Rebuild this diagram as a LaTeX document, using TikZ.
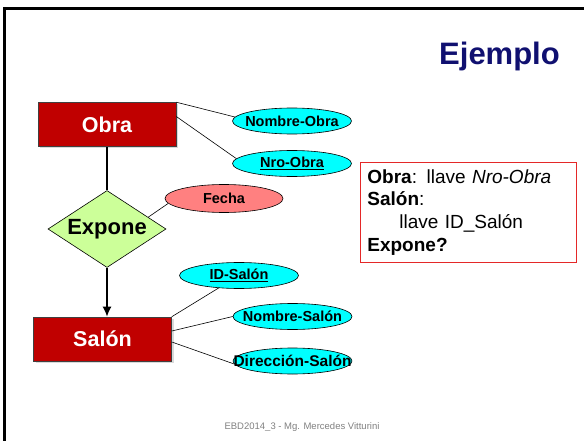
\documentclass[tikz,border=0pt]{standalone}
\usepackage{fontspec}
\setmainfont{Liberation Sans}
\usepackage{xcolor}
\usepackage{tikz}
\usetikzlibrary{positioning,shapes,arrows,arrows.meta,shadows}
\definecolor{entred}{RGB}{192,0,0}
\definecolor{atrcyan}{RGB}{0,255,255}
\definecolor{relgreen}{RGB}{204,255,153}
\definecolor{fechared}{RGB}{255,128,128}
\definecolor{titleblue}{RGB}{16,16,112}
\definecolor{boxred}{RGB}{228,40,40}
\newcommand{\lbl}[1]{\makebox[0pt]{#1}}

\begin{document}
\begin{tikzpicture}[x=1pt,y=-1pt]
    \tikzstyle{ent} = [rectangle, draw=black!75, line width=0.6pt,
    fill=entred, text=white, minimum width=138pt, minimum
    height=44pt, font=\fontsize{21.5}{24}\selectfont\bfseries,
    drop shadow={shadow xshift=2pt,shadow yshift=-2pt,opacity=0.3}]
    \tikzstyle{atr} = [ellipse, draw, line width=0.6pt, fill=atrcyan,
    minimum width=119pt, minimum height=26pt, inner sep=0pt,
    font=\fontsize{14.5}{16}\selectfont\bfseries]
    \tikzstyle{rel} = [diamond, aspect=1.53, draw, line width=0.6pt,
    fill=relgreen, minimum width=118pt, minimum height=77pt, inner
    sep=0pt, font=\fontsize{22}{24}\selectfont\bfseries]
    \tikzstyle{lnk} = [line width=0.6pt]
    \tikzstyle{card} = [line width=1.5pt]
    \useasboundingbox (0,0) rectangle (584,441);
    % marco de la diapositiva
    \draw[line width=3.3pt] (4.8,441) -- (4.8,8.5) -- (584,8.5);
    \node[text=titleblue, font=\fontsize{31}{34}\selectfont\bfseries,
    anchor=base] (titulo) at (499.5,65) {Ejemplo};
    % entidades y relacion
    \node[ent] (obra) at (107,124.5) {Obra};
    \node[rel] (expone) at (107,229) {Expone};
    \node[ent] (salon) at (102.5,339) {Salón};
    % atributos
    \node[atr] (nombreobra) at (292,121) {\lbl{Nombre-Obra}};
    \node[atr] (nroobra) at (292,163.5) {\lbl{\underline{Nro-Obra}}};
    \node[atr, fill=fechared, minimum width=118pt, minimum
    height=28pt] (fecha) at (224,198.5) {\lbl{Fecha}};
    \node[atr] (idsalon) at (239,275.5) {\lbl{\underline{ID-Salón}}};
    \node[atr] (nombresalon) at (292.5,316.5) {\lbl{Nombre-Salón}};
    \node[atr, font=\fontsize{15.5}{17}\selectfont\bfseries]
    (direccion) at (292.5,361) {\lbl{Dirección-Salón}};
    \draw[lnk] (obra.north east) -- (nombreobra.176);
    \draw[lnk] ([yshift=8pt]obra.east) -- (nroobra.175);
    \draw[lnk] (expone.16) -- (fecha.185);
    \draw[lnk] (salon.north east) -- (idsalon);
    \draw[lnk] ([yshift=8pt]salon.east) -- (nombresalon.west);
    \draw[lnk] ([yshift=-3pt]salon.east) -- (direccion.183);
    \draw[card] (obra.south) -- (expone.north);
    \draw[card,-{Latex[length=10pt,width=9pt]}] (expone.south) --
    (expone.south |- salon.north);
    % nota
    \node[draw=boxred, line width=0.8pt, anchor=north west, text
    width=202pt, inner xsep=7pt, inner ysep=7pt,
    font=\fontsize{19}{22.7}\selectfont] (nota) at (360,162)
    {\textbf{Obra}: llave \textit{Nro-Obra}\\ \textbf{Salón}:\\
      \hspace*{32pt}llave ID\_Salón\\ \textbf{Expone?}};
    \node[text=black!50, font=\fontsize{9.5}{11}\selectfont] (pie)
    at (302,427) {EBD2014\_3 - Mg. Mercedes Vitturini};
  \end{tikzpicture}
\end{document}
